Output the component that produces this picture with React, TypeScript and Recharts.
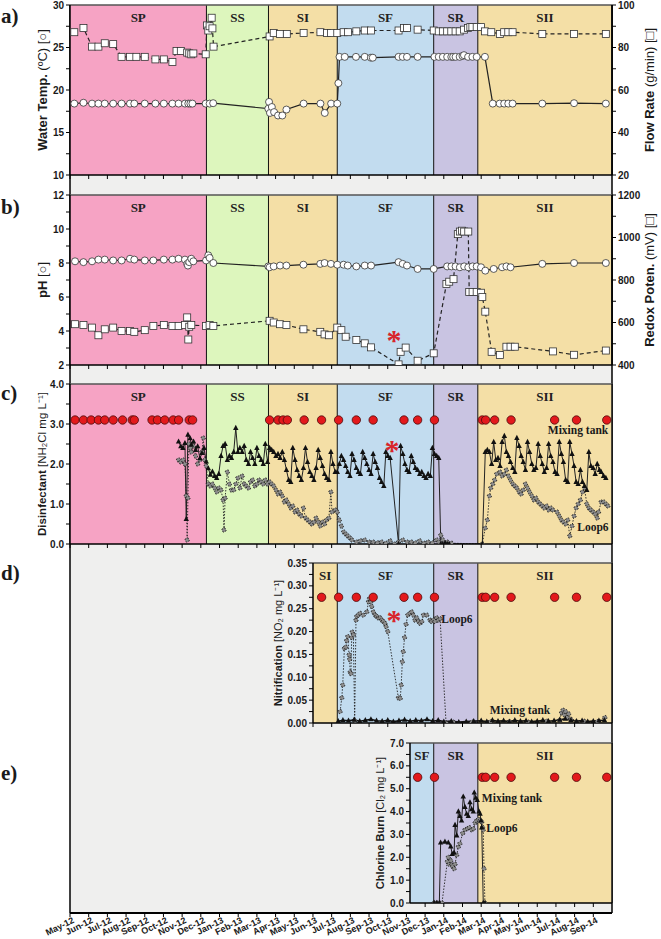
import React from "react";
import {
  ComposedChart,
  Line,
  XAxis,
  YAxis,
  ReferenceArea,
  ReferenceLine,
  ReferenceDot,
  CartesianGrid,
} from "recharts";

// x values are months counted from May-12 (0) to Oct-14 (29)
const months = [
  "May-12", "Jun-12", "Jul-12", "Aug-12", "Sep-12", "Oct-12", "Nov-12", "Dec-12",
  "Jan-13", "Feb-13", "Mar-13", "Apr-13", "May-13", "Jun-13", "Jul-13", "Aug-13",
  "Sep-13", "Oct-13", "Nov-13", "Dec-13", "Jan-14", "Feb-14", "Mar-14", "Apr-14",
  "May-14", "Jun-14", "Jul-14", "Aug-14", "Sep-14",
];
const monthTicks = months.map((_, i) => i);

const phaseNames = ["SP", "SS", "SI", "SF", "SR", "SII"];
const phaseEdges = [0, 7.3, 10.62, 14.3, 19.46, 21.82, 29];
const phaseColors = ["#f6a3c4", "#ddf6bd", "#f4dfa6", "#c2dcef", "#c9c4e2", "#f4dfa6"];

// sampling dates (red dots)
const sampleDates = [
  0.27, 0.72, 1.13, 1.52, 1.86, 2.31, 2.81, 3.33, 3.44, 4.39, 4.68, 5.07, 5.52, 5.81, 6.38, 6.56,
  10.68, 11.13, 11.4, 11.63, 12.53, 13.46, 14.37, 15.32, 16.22, 17.87, 18.6, 19.5,
  22.06, 22.24, 22.72, 23.6, 25.93, 27.1, 28.72,
];

// a) water temperature (circles) and flow rate (squares)
const waterTemp = [
  [0.23, 18.4], [0.72, 18.5], [1.18, 18.4], [1.52, 18.4], [1.86, 18.4], [2.31, 18.4], [2.76, 18.4],
  [3.21, 18.4], [3.44, 18.4], [4.0, 18.4], [4.57, 18.4], [5.02, 18.4], [5.48, 18.4], [5.81, 18.4],
  [6.15, 18.4], [6.33, 18.4], [6.44, 18.4], [6.55, 18.4], [7.26, 18.4], [7.47, 18.4], [7.66, 18.45],
  [10.61, 17.8], [10.65, 18.6], [10.7, 17.3], [10.8, 18.0], [10.92, 17.4], [11.13, 17.0], [11.36, 17.0],
  [11.58, 17.7], [12.5, 18.4], [13.4, 18.4], [13.63, 17.3], [13.97, 18.4], [14.3, 18.4], [14.36, 20.8],
  [14.42, 23.9], [14.7, 23.9], [15.3, 23.9], [15.77, 23.9], [16.1, 23.8], [16.2, 23.8], [17.58, 23.9],
  [17.8, 23.9], [18.03, 23.9], [18.6, 23.9], [19.5, 23.9], [19.73, 23.9], [19.95, 23.9], [20.18, 23.9],
  [20.4, 23.9], [20.5, 23.9], [20.63, 23.9], [20.85, 23.9], [21.0, 24.0], [21.08, 24.1], [21.3, 23.9],
  [21.53, 23.9], [21.76, 23.9], [22.2, 23.9], [22.62, 18.4], [22.99, 18.4], [23.23, 18.4], [23.45, 18.4],
  [23.68, 18.4], [25.27, 18.4], [26.97, 18.45], [28.67, 18.4],
];
const flowRate = [
  [0.23, 87.2], [0.72, 89.2], [1.18, 80.4], [1.52, 80.4], [1.86, 82.0], [2.31, 81.6], [2.76, 75.6],
  [3.21, 75.6], [3.55, 75.6], [4.0, 75.6], [4.57, 74.4], [5.02, 74.4], [5.48, 73.2], [5.7, 78.4],
  [5.93, 78.4], [6.27, 77.6], [6.38, 77.2], [6.49, 76.8], [6.6, 77.2], [7.26, 76.8], [7.33, 90.4],
  [7.4, 88.0], [7.47, 90.0], [7.58, 94.0], [7.62, 89.0], [7.68, 80.4], [10.68, 85.2], [10.9, 86.8],
  [11.23, 86.4], [11.6, 86.4], [12.5, 86.8], [13.4, 87.2], [13.75, 86.8], [13.97, 86.8], [14.3, 86.8],
  [14.64, 87.2], [14.87, 87.2], [15.32, 87.6], [15.77, 88.0], [16.11, 88.0], [17.58, 88.0], [17.87, 89.2],
  [18.03, 89.2], [18.6, 88.4], [19.46, 88.0], [19.73, 87.6], [19.95, 87.6], [20.18, 87.6], [20.4, 87.6],
  [20.63, 87.6], [20.85, 87.6], [21.08, 88.4], [21.3, 89.2], [21.42, 89.6], [21.53, 89.6], [21.76, 89.6],
  [21.99, 89.6], [22.2, 87.6], [22.54, 87.2], [23.0, 86.4], [23.23, 87.2], [23.45, 87.2], [23.68, 87.2],
  [25.27, 86.4], [26.97, 86.4], [28.67, 86.4],
];

// b) pH (circles) and redox potential (squares)
const phValues = [
  [0.27, 8.1], [0.72, 8.05], [1.18, 8.1], [1.52, 8.2], [1.86, 8.2], [2.31, 8.15], [2.76, 8.15],
  [3.21, 8.25], [3.44, 8.2], [4.0, 8.15], [4.46, 8.15], [5.02, 8.2], [5.48, 8.2], [5.81, 8.25],
  [6.15, 8.2], [6.27, 7.95], [6.31, 7.85], [6.38, 8.05], [6.49, 8.25], [6.6, 8.1], [7.28, 8.15],
  [7.4, 8.45], [7.47, 8.3], [7.67, 8.0], [10.61, 7.8], [10.68, 7.75], [10.9, 7.8], [11.24, 7.85],
  [11.58, 7.85], [12.49, 7.9], [13.39, 7.95], [13.62, 8.0], [13.96, 7.95], [14.3, 7.9], [14.64, 7.9],
  [14.86, 7.85], [15.32, 7.8], [15.77, 7.85], [16.11, 7.85], [17.58, 8.05], [17.8, 7.95], [18.03, 7.85],
  [18.6, 7.65], [19.46, 7.65], [20.18, 7.8], [20.41, 7.8], [20.63, 7.8], [20.86, 7.75], [21.09, 7.8],
  [21.31, 7.75], [21.54, 7.8], [21.76, 7.8], [21.99, 7.75], [22.22, 7.55], [22.67, 7.65], [23.12, 7.75],
  [23.35, 7.8], [23.57, 7.75], [25.27, 7.95], [26.97, 8.0], [28.67, 8.0],
];
const redox = [
  [0.27, 592], [0.72, 588], [1.18, 576], [1.52, 540], [1.86, 568], [2.31, 576], [2.76, 560], [3.21, 560],
  [3.44, 556], [4.0, 564], [4.46, 584], [5.02, 588], [5.48, 584], [5.81, 584], [6.15, 588], [6.27, 624],
  [6.33, 520], [6.38, 580], [6.49, 588], [7.28, 584], [7.47, 588], [7.67, 584], [10.68, 608], [10.9, 600],
  [11.24, 592], [11.58, 588], [12.49, 568], [13.39, 556], [13.62, 544], [13.85, 540], [14.3, 576],
  [14.52, 564], [14.75, 533], [15.32, 518], [15.77, 502], [16.11, 483], [17.58, 403], [17.69, 462],
  [17.96, 482], [18.6, 420], [19.46, 455], [20.14, 781], [20.29, 792], [20.52, 804], [20.75, 1016],
  [20.86, 1028], [20.97, 1032], [21.09, 1028], [21.31, 1028], [21.36, 744], [21.54, 744], [21.76, 744],
  [21.99, 740], [22.06, 720], [22.22, 651], [22.56, 462], [23.0, 447], [23.35, 486], [23.57, 486],
  [23.8, 486], [25.84, 464], [26.97, 448], [28.67, 468],
];

// c) disinfectant
const disMixing = [
  [5.81, 2.56], [5.93, 2.44], [6.04, 2.4], [6.15, 2.52], [6.22, 0.62], [6.31, 2.73], [6.43, 2.64], [6.49, 2.48],
  [6.61, 2.56], [6.72, 2.35], [6.83, 2.44], [6.95, 2.14], [7.06, 2.27], [7.17, 2.4], [7.29, 2.06],
  [7.4, 1.89], [7.51, 1.73], [7.62, 1.81], [7.74, 1.7], [7.85, 1.65], [7.96, 1.75], [8.08, 2.2], [8.19, 2.45],
  [8.3, 2.5], [8.42, 2.1], [8.53, 2.2], [8.64, 2.15], [8.76, 2.3], [8.87, 2.9], [8.98, 2.3], [9.09, 2.4],
  [9.21, 2.3], [9.32, 2.45], [9.43, 2.1], [9.55, 2.0], [9.66, 2.3], [9.77, 2.15], [9.89, 2.0], [10.0, 2.4],
  [10.11, 2.2], [10.23, 2.1], [10.34, 2.0], [10.45, 2.5], [10.57, 2.05],
  [10.68, 2.4], [10.79, 2.35], [10.9, 2.3], [11.02, 2.2], [11.13, 2.25], [11.24, 2.15], [11.36, 2.3],
  [11.47, 2.1], [11.58, 1.85], [11.7, 1.6], [11.81, 1.55], [11.92, 2.4], [12.04, 2.1], [12.15, 1.85],
  [12.26, 1.7], [12.38, 1.6], [12.49, 1.9], [12.6, 2.4], [12.71, 2.05], [12.83, 1.8], [12.94, 1.7],
  [13.05, 1.6], [13.17, 1.9], [13.28, 2.35], [13.39, 2.15], [13.51, 1.95], [13.62, 1.75], [13.73, 1.65],
  [13.85, 1.6], [13.96, 2.3], [14.07, 2.0], [14.19, 1.8],
  [14.3, 1.8], [14.41, 2.0], [14.52, 2.2], [14.64, 2.1], [14.75, 1.95], [14.86, 1.8], [14.98, 1.7],
  [15.09, 2.25], [15.2, 2.1], [15.32, 1.9], [15.43, 1.8], [15.54, 1.75], [15.66, 2.3], [15.77, 2.15],
  [15.88, 2.0], [16.0, 1.85], [16.11, 1.75], [16.22, 2.25], [16.33, 2.05], [16.45, 1.9], [16.56, 1.65],
  [16.67, 1.55], [16.79, 1.45], [16.9, 2.3], [17.01, 2.2], [17.13, 2.15], [17.58, 0.0], [17.69, 2.45],
  [17.81, 2.25], [17.92, 2.0], [18.03, 1.85], [18.14, 1.8], [18.26, 2.2], [18.37, 2.05], [18.48, 1.9],
  [18.6, 1.85], [18.71, 1.75], [18.82, 1.8], [18.94, 1.7], [19.05, 1.65], [19.16, 1.75], [19.28, 1.7],
  [19.39, 2.4], [19.5, 2.25], [19.62, 2.2], [19.73, 2.15], [19.84, 0.0], [19.95, 0.0], [20.07, 0.02],
  [20.18, 0.0], [20.29, 0.0],
  [22.06, 0.0], [22.22, 2.3], [22.33, 2.35], [22.44, 2.3], [22.56, 2.0], [22.67, 2.55], [22.78, 2.1],
  [22.9, 2.15], [23.01, 1.95], [23.12, 2.55], [23.24, 2.7], [23.35, 2.3], [23.46, 2.2], [23.57, 2.05],
  [23.69, 1.9], [23.8, 1.8], [23.91, 2.65], [24.03, 2.45], [24.14, 2.2], [24.25, 2.05], [24.37, 1.85],
  [24.48, 2.55], [24.59, 2.3], [24.71, 2.0], [24.82, 1.85], [24.93, 1.9], [25.05, 2.5], [25.16, 2.2],
  [25.27, 2.0], [25.38, 1.8], [25.5, 1.9], [25.61, 2.5], [25.72, 2.2], [25.84, 2.05], [25.95, 1.8],
  [26.06, 1.75], [26.18, 2.55], [26.29, 2.25], [26.4, 2.05], [26.52, 1.6], [26.63, 1.55], [26.74, 2.55],
  [26.86, 2.25], [26.97, 1.95], [27.08, 1.55], [27.19, 1.5], [27.31, 1.85], [27.42, 1.55], [27.53, 1.45],
  [27.65, 1.35], [27.76, 2.3], [27.87, 1.95], [27.99, 1.9], [28.1, 1.75], [28.21, 2.0], [28.33, 1.85],
  [28.42, 1.8], [28.55, 1.7], [28.67, 1.65],
];
const disLoop6 = [
  [5.81, 2.1], [5.93, 2.05], [6.04, 2.1], [6.15, 2.0], [6.22, 1.2], [6.27, 0.1], [6.31, 1.15], [6.36, 2.5],
  [6.43, 2.4], [6.49, 2.3], [6.61, 2.45], [6.72, 2.2], [6.83, 2.0], [6.95, 2.1], [7.06, 2.3], [7.13, 2.65],
  [7.22, 2.1], [7.29, 1.95],
  [7.4, 1.5], [7.51, 1.45], [7.62, 1.5], [7.74, 1.4], [7.85, 1.3], [7.96, 1.4], [8.08, 1.35], [8.19, 1.1],
  [8.24, 0.35], [8.3, 1.15], [8.42, 1.8], [8.53, 1.5], [8.64, 1.35], [8.76, 1.35], [8.87, 1.5], [8.98, 1.65],
  [9.09, 1.4], [9.21, 1.7], [9.32, 1.5], [9.43, 1.45], [9.55, 1.4], [9.66, 1.55], [9.77, 1.6], [9.89, 1.45],
  [10.0, 1.5], [10.11, 1.6], [10.23, 1.55], [10.34, 1.5], [10.45, 1.6], [10.57, 1.5],
  [10.68, 1.55], [10.79, 1.5], [10.9, 1.45], [11.02, 1.35], [11.13, 1.25], [11.24, 1.3], [11.36, 1.2],
  [11.47, 1.05], [11.58, 1.1], [11.7, 1.0], [11.81, 0.9], [11.92, 0.95], [12.04, 0.8], [12.15, 0.85],
  [12.26, 0.75], [12.38, 0.7], [12.49, 0.9], [12.6, 0.65], [12.71, 0.6], [12.83, 0.55], [12.94, 0.5],
  [13.05, 0.55], [13.17, 0.65], [13.28, 0.55], [13.39, 0.45], [13.51, 0.55], [13.62, 0.5], [13.73, 0.6],
  [13.85, 0.65], [13.96, 1.3], [14.02, 0.8], [14.19, 0.85],
  [14.3, 0.8], [14.41, 0.6], [14.52, 0.45], [14.64, 0.3], [14.75, 0.25], [14.86, 0.2], [14.98, 0.15],
  [15.09, 0.1], [15.32, 0.05], [15.54, 0.08], [15.77, 0.1], [16.0, 0.05], [16.22, 0.05], [16.45, 0.03],
  [16.67, 0.05], [16.9, 0.02], [17.13, 0.08], [17.35, 0.0], [17.58, 0.05], [17.81, 0.1], [18.03, 0.05],
  [18.26, 0.05], [18.48, 0.03], [18.71, 0.08], [18.94, 0.02], [19.16, 0.05], [19.39, 0.03], [19.62, 0.1],
  [19.73, 0.05], [19.84, 0.22], [19.95, 0.1], [20.18, 0.05], [20.41, 0.02],
  [22.06, 0.0], [22.22, 0.4], [22.33, 0.6], [22.44, 1.2], [22.51, 1.4], [22.62, 1.5], [22.72, 1.6],
  [22.83, 1.75], [23.01, 1.8], [23.12, 1.7], [23.24, 1.75], [23.35, 1.85], [23.46, 1.7], [23.57, 1.6],
  [23.69, 1.5], [23.8, 1.45], [23.91, 1.4], [24.03, 1.3], [24.14, 1.25], [24.25, 1.35], [24.37, 1.5],
  [24.48, 1.4], [24.59, 1.3], [24.71, 1.2], [24.82, 1.1], [24.93, 1.15], [25.05, 1.05], [25.16, 1.0],
  [25.27, 0.95], [25.38, 0.9], [25.5, 0.95], [25.61, 0.85], [25.72, 0.9], [25.84, 0.85], [26.06, 0.8],
  [26.18, 0.7], [26.29, 0.6], [26.4, 0.55], [26.52, 0.5], [26.63, 0.6], [26.74, 0.2], [26.86, 0.45],
  [26.97, 0.7], [27.08, 0.9], [27.19, 1.0], [27.31, 1.1], [27.42, 1.3], [27.53, 1.4], [27.65, 1.0],
  [27.76, 0.9], [27.87, 0.85], [27.99, 0.8], [28.1, 0.75], [28.21, 0.65], [28.28, 0.8], [28.42, 1.05],
  [28.55, 1.05], [28.67, 1.0], [28.78, 0.95],
];

// d) nitrification
const nitLoop6 = [
  [14.45, 0.025], [14.54, 0.055], [14.59, 0.083], [14.68, 0.163], [14.75, 0.166], [14.8, 0.18], [14.86, 0.189],
  [14.93, 0.149], [14.96, 0.139], [14.99, 0.111], [15.03, 0.108], [15.07, 0.187], [15.1, 0.199], [15.16, 0.193],
  [15.23, 0.005], [15.3, 0.225], [15.34, 0.233], [15.42, 0.236], [15.52, 0.24], [15.69, 0.236], [15.88, 0.243],
  [15.97, 0.265], [16.02, 0.272], [16.09, 0.265], [16.14, 0.255], [16.23, 0.243], [16.32, 0.236], [16.41, 0.233],
  [16.5, 0.23], [16.59, 0.23], [16.68, 0.225], [16.76, 0.222], [16.85, 0.218], [16.91, 0.211], [17.0, 0.2],
  [17.57, 0.055], [17.67, 0.054], [17.72, 0.083], [17.78, 0.134], [17.83, 0.156], [17.9, 0.187], [17.98, 0.216],
  [18.07, 0.236], [18.19, 0.24], [18.28, 0.243], [18.37, 0.236], [18.46, 0.225], [18.55, 0.23], [18.64, 0.222],
  [18.73, 0.218], [18.82, 0.222], [18.91, 0.236], [19.09, 0.236], [19.26, 0.225], [19.35, 0.222], [19.44, 0.225],
  [19.53, 0.222], [19.62, 0.23], [19.71, 0.225], [19.8, 0.228], [20.12, 0.0], [20.5, 0.002], [21.5, 0.002],
  [22.5, 0.003], [23.5, 0.003], [24.5, 0.002], [25.5, 0.004], [26.2, 0.006], [26.3, 0.022], [26.38, 0.028],
  [26.45, 0.018], [26.52, 0.025], [26.6, 0.012], [26.68, 0.02], [26.8, 0.008], [27.5, 0.004], [28.2, 0.003],
  [28.62, 0.012],
];
const nitMixing = [
  [14.35, 0.004], [14.6, 0.006], [14.9, 0.005], [15.2, 0.007], [15.5, 0.004], [15.8, 0.006], [16.1, 0.008],
  [16.4, 0.005], [16.7, 0.004], [17.0, 0.006], [17.3, 0.003], [17.6, 0.005], [17.9, 0.007], [18.2, 0.004],
  [18.5, 0.006], [18.8, 0.005], [19.1, 0.008], [19.4, 0.004], [19.7, 0.006], [20.0, 0.003], [20.4, 0.004],
  [20.8, 0.002], [21.2, 0.003], [21.6, 0.004], [22.0, 0.005], [22.3, 0.003], [22.6, 0.006], [22.9, 0.004],
  [23.2, 0.005], [23.5, 0.003], [23.8, 0.006], [24.1, 0.004], [24.4, 0.005], [24.7, 0.003], [25.0, 0.004],
  [25.3, 0.006], [25.6, 0.004], [25.9, 0.005], [26.2, 0.007], [26.5, 0.009], [26.8, 0.006], [27.1, 0.004],
  [27.4, 0.005], [27.7, 0.003], [28.0, 0.004], [28.3, 0.005], [28.6, 0.006],
];

// e) chlorine burn
const burnMixing = [
  [19.48, 0], [19.62, 0], [19.76, 0], [19.83, 2.64], [20.06, 2.68], [20.24, 2.64], [20.37, 2.47], [20.45, 2.14],
  [20.55, 2.2], [20.6, 3.41], [20.69, 2.95], [20.78, 4.0], [20.86, 3.8], [20.95, 3.6], [21.04, 4.65],
  [21.13, 4.2], [21.22, 3.9], [21.31, 3.8], [21.4, 4.4], [21.49, 4.1], [21.58, 4.0], [21.63, 4.83],
  [21.71, 4.6], [21.79, 4.5], [21.88, 4.0], [21.94, 3.9], [21.99, 3.6], [22.03, 3.3], [22.11, 0.0], [22.2, 0.0],
];
const burnLoop6 = [
  [19.48, 0], [19.62, 0], [19.76, 0], [19.9, 0], [20.19, 1.81], [20.24, 2.0], [20.29, 1.7], [20.37, 1.85],
  [20.42, 1.66], [20.47, 1.6], [20.55, 1.5], [20.6, 1.7], [20.69, 2.1], [20.78, 2.46], [20.86, 2.6],
  [21.01, 3.05], [21.13, 3.2], [21.26, 3.25], [21.36, 3.3], [21.49, 3.2], [21.58, 3.25], [21.67, 3.5],
  [21.76, 3.6], [21.85, 3.65], [21.94, 3.6], [22.03, 3.55], [22.08, 3.3], [22.11, 3.2], [22.15, 1.5], [22.2, 0.0],
];

const SANS = "Liberation Sans, Arial, sans-serif";
const SERIF = "Liberation Serif, Times New Roman, serif";
const INK = "#1a1a1a";

const pts = (arr: number[][]) => arr.map(([t, v]) => ({ t, v }));
const dots = (y: number, xMin: number) => sampleDates.filter((t) => t >= xMin).map((t) => ({ t, v: y }));

const squareDot = (p: any) =>
  p.cx == null ? <g key={p.index} /> : (
    <rect key={p.index} x={p.cx - 3.5} y={p.cy - 3.5} width={7} height={7} fill="#fff" stroke="#333" strokeWidth={0.8} />
  );
const triDot = (p: any) =>
  p.cx == null ? <g key={p.index} /> : (
    <path key={p.index} d={`M${p.cx},${p.cy - 3.2}L${p.cx + 2.7},${p.cy + 1.9}L${p.cx - 2.7},${p.cy + 1.9}Z`} fill="#111" />
  );
const openCircle = { r: 3.5, fill: "#fff", stroke: "#333", strokeWidth: 0.8 };
const smallCircle = { r: 2.1, fill: "#8a8a8a", stroke: "#111", strokeWidth: 0.9 };
const redDot = { r: 4.2, fill: "#e3191c", stroke: "#4a0c0c", strokeWidth: 0.8 };

// slanted month label under the shared axis
function MonthTick(p: any) {
  const { x, y, payload } = p;
  return (
    <text x={x + 2} y={y + 7} transform={`rotate(-26 ${x} ${y})`} textAnchor="end"
      fontFamily={SANS} fontWeight="bold" fontSize={9} fill={INK}>
      {months[payload.value]}
    </text>
  );
}

function AxisTitle(props: any) {
  const vb = props.viewBox;
  if (!vb) return null;
  const cx = vb.x + props.dx;
  const cy = vb.y + vb.height / 2;
  return (
    <text x={cx} y={cy} transform={`rotate(-90 ${cx} ${cy})`} textAnchor="middle" dominantBaseline="central"
      fontFamily={SANS} fontSize={props.size || 11} fill={INK}>
      <tspan fontWeight="bold">{props.bold}</tspan>
      <tspan>{props.rest}</tspan>
    </text>
  );
}

const note = (txt: string, size: number, color: string, shift: number, family = SERIF) => (p: any) => {
  const vb = p.viewBox || {};
  const x = (vb.x || 0) + (vb.width || 0) / 2;
  const y = (vb.y || 0) + (vb.height || 0) / 2 + shift;
  return (
    <text x={x} y={y} textAnchor="middle" fontFamily={family} fontWeight="bold" fontSize={size} fill={color}>
      {txt}
    </text>
  );
};

function phaseLayer(xMin: number, yMin: number, yMax: number) {
  const out: React.ReactNode[] = [];
  phaseNames.forEach((name, i) => {
    const b = phaseEdges[i + 1];
    if (b <= xMin) return;
    const a = Math.max(phaseEdges[i], xMin);
    out.push(
      <ReferenceArea key={"pa" + i} x1={a} x2={b} y1={yMin} y2={yMax} fill={phaseColors[i]} fillOpacity={1}
        stroke="none" ifOverflow="hidden"
        label={{ value: name, position: "insideTop", offset: 8, fill: "#222", fontSize: 13, fontWeight: "bold", fontFamily: SERIF }} />
    );
  });
  phaseEdges.slice(1, -1).forEach((e, i) => {
    if (e > xMin) out.push(<ReferenceLine key={"pl" + i} x={e} stroke="#111" strokeWidth={1} />);
  });
  out.push(<ReferenceLine key="top" y={yMax} stroke="#555" strokeWidth={1.5} />);
  out.push(<ReferenceLine key="right" x={29} stroke="#111" strokeWidth={1.5} />);
  return out;
}

type Side = { domain: [number, number]; ticks: number[]; fmt: (v: number) => string; bold: string; rest: string; dx: number; size?: number };

function Panel(p: { top: number; left: number; plotH: number; xMin: number; l: Side; r?: Side; children: React.ReactNode }) {
  const xTicks = monthTicks.filter((m) => m >= p.xMin);
  const tickStyle = { fontSize: 10, fontWeight: "bold", fill: INK, fontFamily: SANS };
  return (
    <div style={{ position: "absolute", left: 0, top: p.top }}>
      <ComposedChart width={661} height={p.plotH + 15} margin={{ top: 5, right: p.r ? 0 : 49, bottom: 0, left: p.left }}>
        <XAxis type="number" dataKey="t" domain={[p.xMin, 29]} ticks={xTicks} tickFormatter={() => ""} height={10}
          interval={0} tickSize={4} allowDataOverflow axisLine={{ stroke: "#000", strokeWidth: 1.5 }} tickLine={{ stroke: "#000" }} />
        <YAxis width={70} domain={p.l.domain} ticks={p.l.ticks} tickFormatter={p.l.fmt} allowDataOverflow interval={0}
          tick={tickStyle} tickSize={4} axisLine={{ stroke: "#000", strokeWidth: 1.5 }} tickLine={{ stroke: "#000" }}
          label={<AxisTitle bold={p.l.bold} rest={p.l.rest} dx={p.l.dx} size={p.l.size} />} />
        {p.r && (
          <YAxis yAxisId="r" orientation="right" width={49} domain={p.r.domain} ticks={p.r.ticks} tickFormatter={p.r.fmt}
            allowDataOverflow interval={0} tick={tickStyle} tickSize={4} axisLine={{ stroke: "#000", strokeWidth: 1.5 }}
            tickLine={{ stroke: "#000" }} label={<AxisTitle bold={p.r.bold} rest={p.r.rest} dx={p.r.dx} size={p.r.size} />} />
        )}
        {phaseLayer(p.xMin, p.l.domain[0], p.l.domain[1])}
        {p.children}
      </ComposedChart>
    </div>
  );
}

const panelLetter = (txt: string, top: number) => (
  <div key={txt} style={{ position: "absolute", left: 1, top, fontFamily: SERIF, fontWeight: "bold", fontSize: 21, color: INK, lineHeight: "22px" }}>
    {txt}
  </div>
);

export default function App() {
  return (
    <div style={{ position: "absolute", left: 0, top: 0, width: 661, height: 939, background: "#fff", overflow: "hidden" }}>
      {/* grey frame with the shared month axis */}
      <div style={{ position: "absolute", left: 0, top: 0 }}>
        <ComposedChart width={661} height={939} margin={{ top: 5, right: 0, bottom: 0, left: 0 }}>
          <CartesianGrid horizontal={false} vertical={false} fill="#efefee" />
          <XAxis type="number" dataKey="t" domain={[0, 29]} ticks={monthTicks} interval={0}
            height={26} tickSize={4} tickMargin={0} tick={<MonthTick />}
            axisLine={{ stroke: "#000", strokeWidth: 2 }} tickLine={{ stroke: "#000" }} />
          <YAxis width={70} domain={[0, 1]} tick={false} tickLine={false} axisLine={{ stroke: "#000", strokeWidth: 1.5 }} />
          <YAxis yAxisId="r" orientation="right" width={49} domain={[0, 1]} tick={false} tickLine={false}
            axisLine={{ stroke: "#000", strokeWidth: 1.5 }} />
          {/* invisible carrier so the month axis has a data extent */}
          <Line data={monthTicks.map((t) => ({ t, v: 0.5 }))} dataKey="v" stroke="none" dot={false} activeDot={false} isAnimationActive={false} />
        </ComposedChart>
      </div>

      <Panel top={0} left={0} plotH={170} xMin={0}
        l={{ domain: [10, 30], ticks: [10, 12.5, 15, 17.5, 20, 22.5, 25, 27.5, 30], fmt: (v) => (v % 5 === 0 ? String(v) : ""), bold: "Water Temp.", rest: " (ºC) [○]", dx: 42, size: 13 }}
        r={{ domain: [20, 100], ticks: [20, 30, 40, 50, 60, 70, 80, 90, 100], fmt: (v) => (v % 20 === 0 ? String(v) : ""), bold: "Flow Rate", rest: " (g/min) [□]", dx: 37, size: 13 }}>
        <Line data={pts(waterTemp)} dataKey="v" stroke="#222" strokeWidth={1.2} dot={openCircle} activeDot={false} isAnimationActive={false} />
        <Line yAxisId="r" data={pts(flowRate)} dataKey="v" stroke="#222" strokeWidth={1.2} strokeDasharray="4 3" dot={squareDot} activeDot={false} isAnimationActive={false} />
      </Panel>

      <Panel top={190} left={0} plotH={170} xMin={0}
        l={{ domain: [2, 12], ticks: [2, 3, 4, 5, 6, 7, 8, 9, 10, 11, 12], fmt: (v) => (v % 2 === 0 ? String(v) : ""), bold: "pH", rest: " [○]", dx: 42, size: 13 }}
        r={{ domain: [400, 1200], ticks: [400, 500, 600, 700, 800, 900, 1000, 1100, 1200], fmt: (v) => (v % 200 === 0 ? String(v) : ""), bold: "Redox Poten.", rest: " (mV) [□]", dx: 37, size: 13 }}>
        <Line data={pts(phValues)} dataKey="v" stroke="#222" strokeWidth={1.2} dot={openCircle} activeDot={false} isAnimationActive={false} />
        <Line yAxisId="r" data={pts(redox)} dataKey="v" stroke="#222" strokeWidth={1.2} strokeDasharray="4 3" dot={squareDot} activeDot={false} isAnimationActive={false} />
        <ReferenceDot x={17.34} y={3.76} r={0} stroke="none" label={note("*", 30, "#d8262b", 15)} />
      </Panel>

      <Panel top={379} left={0} plotH={160} xMin={0}
        l={{ domain: [0, 4], ticks: [0, 0.5, 1, 1.5, 2, 2.5, 3, 3.5, 4], fmt: (v) => (Number.isInteger(v) ? v.toFixed(1) : ""), bold: "Disinfectant", rest: " [NH₂Cl mg L⁻¹]", dx: 42, size: 11.5 }}>
        <Line data={pts(disLoop6)} dataKey="v" stroke="#222" strokeWidth={0.9} strokeDasharray="1.5 1.5" dot={smallCircle} activeDot={false} isAnimationActive={false} />
        <Line data={pts(disMixing)} dataKey="v" stroke="#222" strokeWidth={1} dot={triDot} activeDot={false} isAnimationActive={false} />
        <Line data={dots(3.1, 0)} dataKey="v" stroke="none" dot={redDot} activeDot={false} isAnimationActive={false} />
        <ReferenceDot x={17.23} y={2.48} r={0} stroke="none" label={note("*", 30, "#d8262b", 15)} />
        <ReferenceDot x={27.18} y={2.85} r={0} stroke="none" label={note("Mixing tank", 11.5, INK, 4)} />
        <ReferenceDot x={27.98} y={0.42} r={0} stroke="none" label={note("Loop6", 11.5, INK, 4)} />
      </Panel>

      <Panel top={558} left={243} plotH={160} xMin={13}
        l={{ domain: [0, 0.35], ticks: [0, 0.025, 0.05, 0.075, 0.1, 0.125, 0.15, 0.175, 0.2, 0.225, 0.25, 0.275, 0.3, 0.325, 0.35], fmt: (v) => (Math.round(v * 1000) % 50 === 0 ? v.toFixed(2) : ""), bold: "Nitrification", rest: " [NO₂ mg L⁻¹]", dx: 35 }}>
        <Line data={pts(nitLoop6)} dataKey="v" stroke="#222" strokeWidth={0.9} strokeDasharray="1.5 1.5" dot={smallCircle} activeDot={false} isAnimationActive={false} />
        <Line data={pts(nitMixing)} dataKey="v" stroke="#111" strokeWidth={1.6} dot={triDot} activeDot={false} isAnimationActive={false} />
        <Line data={dots(0.275, 13)} dataKey="v" stroke="none" dot={redDot} activeDot={false} isAnimationActive={false} />
        <ReferenceDot x={17.34} y={0.236} r={0} stroke="none" label={note("*", 30, "#d8262b", 15)} />
        <ReferenceDot x={20.7} y={0.2275} r={0} stroke="none" label={note("Loop6", 11.5, INK, 4)} />
        <ReferenceDot x={24.08} y={0.028} r={0} stroke="none" label={note("Mixing tank", 11.5, INK, 4)} />
      </Panel>

      <Panel top={738} left={340} plotH={160} xMin={18.19}
        l={{ domain: [0, 7], ticks: [0, 0.5, 1, 1.5, 2, 2.5, 3, 3.5, 4, 4.5, 5, 5.5, 6, 6.5, 7], fmt: (v) => (Number.isInteger(v) ? v.toFixed(1) : ""), bold: "Chlorine Burn", rest: " [Cl₂ mg L⁻¹]", dx: 40 }}>
        <Line data={pts(burnLoop6)} dataKey="v" stroke="#222" strokeWidth={0.9} strokeDasharray="1.5 1.5" dot={smallCircle} activeDot={false} isAnimationActive={false} />
        <Line data={pts(burnMixing)} dataKey="v" stroke="#222" strokeWidth={1} dot={triDot} activeDot={false} isAnimationActive={false} />
        <Line data={dots(5.5, 18.19)} dataKey="v" stroke="none" dot={redDot} activeDot={false} isAnimationActive={false} />
        <ReferenceDot x={23.65} y={4.59} r={0} stroke="none" label={note("Mixing tank", 11.5, INK, 4)} />
        <ReferenceDot x={23.11} y={3.28} r={0} stroke="none" label={note("Loop6", 11.5, INK, 4)} />
      </Panel>

      {panelLetter("a)", 5)}
      {panelLetter("b)", 196)}
      {panelLetter("c)", 382)}
      {panelLetter("d)", 562)}
      {panelLetter("e)", 762)}
    </div>
  );
}
